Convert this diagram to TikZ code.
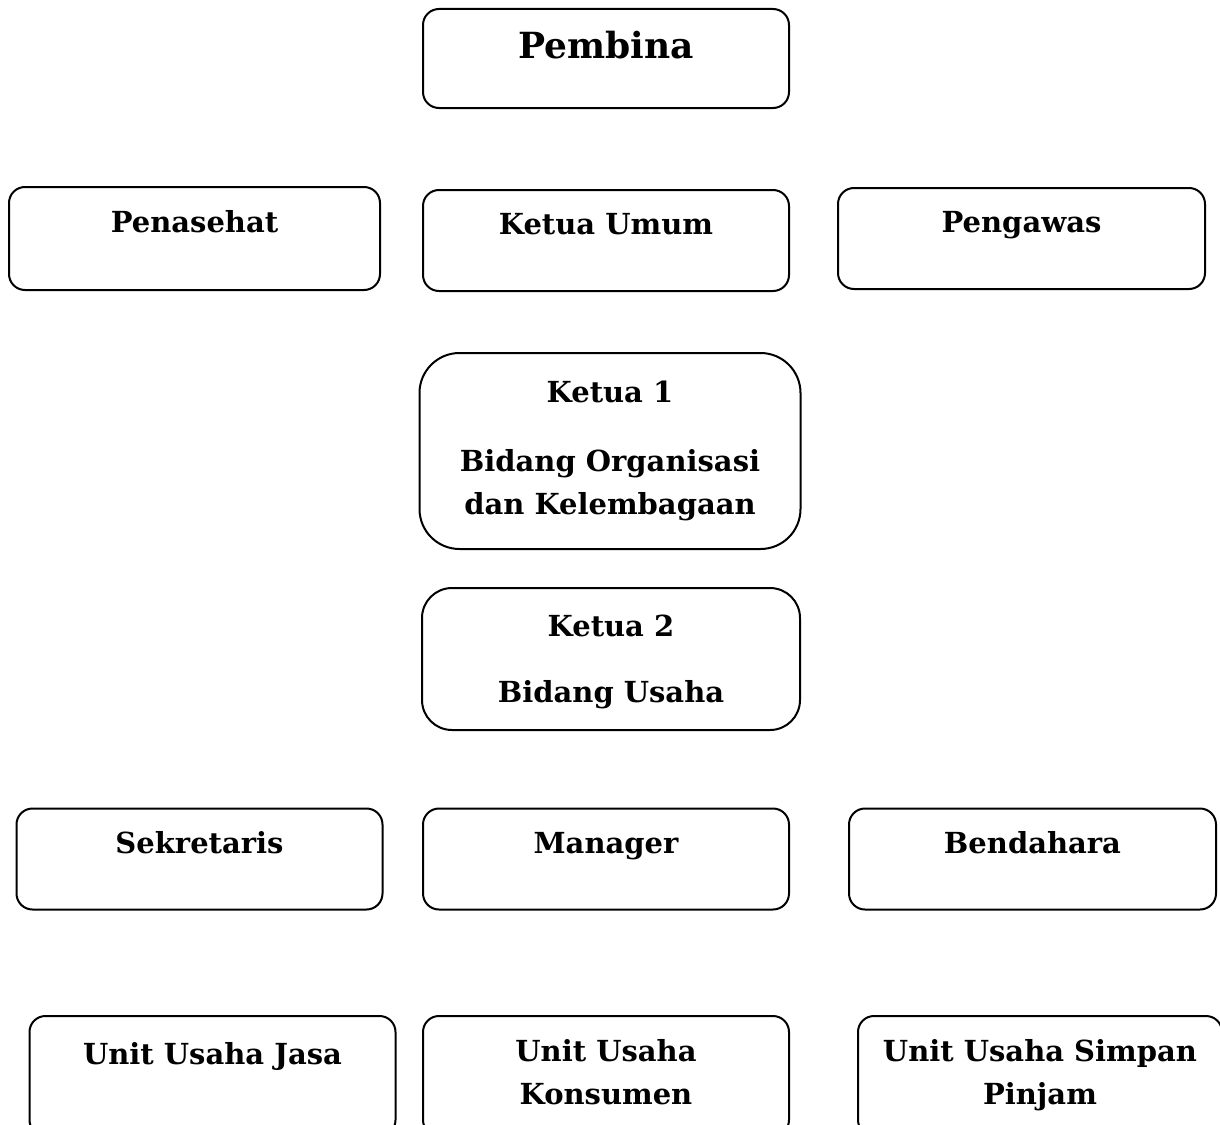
\documentclass[tikz,border=0pt]{standalone}
\usepackage{fontspec}
\setmainfont{DejaVu Serif}
\usetikzlibrary{positioning}
\tikzset{
	box/.style={draw,line width=2pt,rounded corners=16pt,minimum width=366pt,minimum height=101pt,inner sep=0},
	box round/.style={box,rounded corners=40pt},
	txt/.style={font=\bfseries\fontsize{29}{43}\selectfont,align=center,inner sep=0,anchor=base},
	txt big/.style={txt,font=\bfseries\fontsize{36}{43}\selectfont}
}

\begin{document}
\begin{tikzpicture}[x=1pt,y=-1pt]
  \useasboundingbox (0,0) rectangle (1220,1124);
  \clip (0,0) rectangle (1220,1124);

  % TOP
  \node[box,minimum height=99pt] (pembina) at (606,58.5) {};
  \node[txt big] (pembina-t) at ([yshift=-51pt]pembina.north) {Pembina};

  % SECOND ROW
  \node[box,minimum width=371pt,minimum height=103pt] (penasehat) at (194.5,238.5) {};
  \node[box] (ketum) at (606,240.5) {};
  \node[box,minimum width=367pt] (pengawas) at (1021.5,238.5) {};
  \node[txt] (penasehat-t) at ([yshift=-46pt]penasehat.north) {Penasehat};
  \node[txt] (ketum-t) at ([yshift=-45pt]ketum.north) {Ketua Umum};
  \node[txt] (pengawas-t) at ([yshift=-45pt]pengawas.north) {Pengawas};

  % KETUA 1 & 2 (base = last line)
  \node[box round,minimum width=381pt,minimum height=196pt] (ketua1) at (610,451) {};
  \node[txt] (ketua1-t) at ([yshift=-162pt]ketua1.north) {Ketua 1\\[26pt]Bidang Organisasi\\dan Kelembagaan};
  \node[box,rounded corners=30pt,minimum width=378pt,minimum height=142pt] (ketua2) at (611,659) {};
  \node[txt] (ketua2-t) at ([yshift=-115pt]ketua2.north) {Ketua 2\\[23pt]Bidang Usaha};

  % THIRD ROW
  \node[box] (sekretaris) at (199.5,859) {};
  \node[box] (manager) at (606,859) {};
  \node[box,minimum width=367pt] (bendahara) at (1032.5,859) {};
  \node[txt] (sekretaris-t) at ([yshift=-46pt]sekretaris.north) {Sekretaris};
  \node[txt] (manager-t) at ([yshift=-46pt]manager.north) {Manager};
  \node[txt] (bendahara-t) at ([yshift=-46pt]bendahara.north) {Bendahara};

  % UNITS (cut at the bottom)
  \node[box,minimum height=120pt] (jasa) at (212.5,1076) {};
  \node[box,minimum height=120pt] (konsumen) at (606,1076) {};
  \node[box,minimum width=364pt,minimum height=120pt] (simpan) at (1040,1076) {};
  \node[txt] (jasa-t) at ([yshift=-49pt]jasa.north) {Unit Usaha Jasa};
  \node[txt] (konsumen-t) at ([yshift=-89pt]konsumen.north) {Unit Usaha\\Konsumen};
  \node[txt] (simpan-t) at ([yshift=-89pt]simpan.north) {Unit Usaha Simpan\\Pinjam};
\end{tikzpicture}
\end{document}
